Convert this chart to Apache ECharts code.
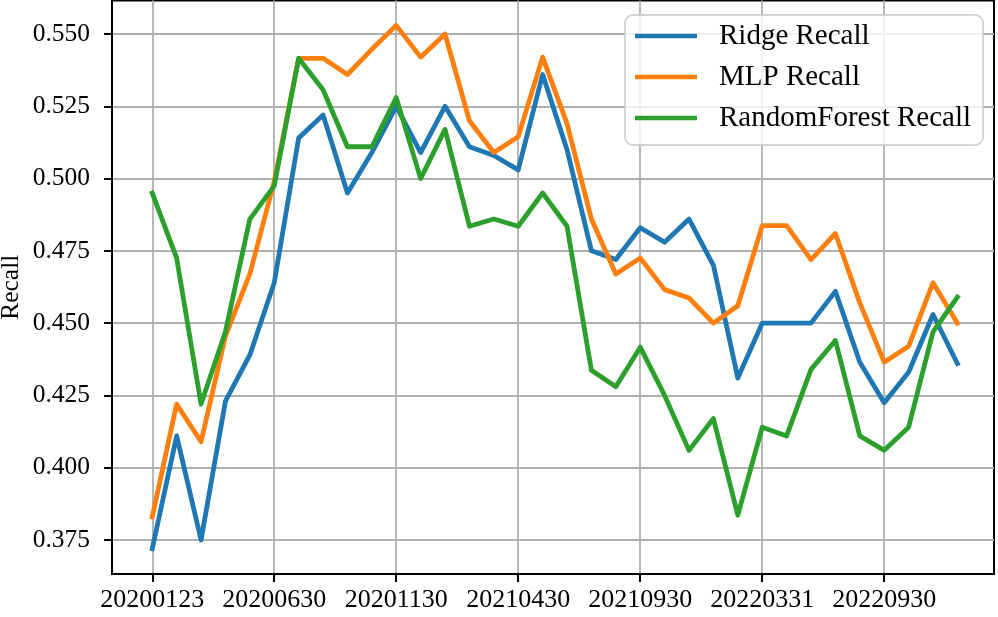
<!DOCTYPE html>
<html>
<head>
<meta charset="utf-8">
<script src="https://cdn.jsdelivr.net/npm/echarts@6/dist/echarts.min.js"></script>
<style>
html,body{margin:0;padding:0;background:#fff;}
#chart{width:998px;height:617px;}
</style>
</head>
<body>
<div id="chart"></div>
<script>
const categories = ['20200123','20200228','20200331','20200430','20200529','20200630','20200731','20200831','20200930','20201030','20201130','20201231','20210129','20210226','20210331','20210430','20210531','20210630','20210730','20210831','20210930','20211029','20211130','20211231','20220228','20220331','20220429','20220531','20220630','20220831','20220930','20221031','20221130','20221230'];
const xTickIndex = [0,5,10,15,20,25,30];
const yTicks = [0.375,0.400,0.425,0.450,0.475,0.500,0.525,0.550];
const ridgeRecall = [0.372,0.411,0.375,0.423,0.439,0.464,0.514,0.522,0.495,0.509,0.525,0.509,0.525,0.511,0.508,0.503,0.536,0.510,0.475,0.472,0.483,0.478,0.486,0.470,0.431,0.450,0.450,0.450,0.461,0.4365,0.4225,0.433,0.453,0.436];
const mlpRecall = [0.383,0.422,0.409,0.4455,0.467,0.499,0.5416,0.5416,0.536,0.5447,0.553,0.542,0.550,0.520,0.509,0.5145,0.542,0.519,0.486,0.467,0.4725,0.4616,0.4587,0.450,0.456,0.4837,0.4837,0.472,0.481,0.457,0.4365,0.442,0.464,0.450];
const rfRecall = [0.495,0.4725,0.422,0.447,0.486,0.4975,0.5416,0.5307,0.511,0.511,0.528,0.500,0.517,0.4835,0.486,0.4835,0.495,0.4835,0.4337,0.428,0.4417,0.425,0.406,0.417,0.3836,0.414,0.411,0.434,0.444,0.411,0.406,0.414,0.447,0.459];
const seriesNames = ['Ridge Recall','MLP Recall','RandomForest Recall'];
const colors = ['#1f77b4','#ff7f0e','#2ca02c'];

const FONT = '"Liberation Serif", "Times New Roman", serif';
const chart = echarts.init(document.getElementById('chart'), null, {renderer:'canvas'});
function toPairs(arr){ return arr.map((v,i)=>[i,v]); }
function mkSeries(name, arr, color){
  return {
    name: name, type:'line', data: toPairs(arr), showSymbol:false, symbol:'none',
    lineStyle:{color:color, width:4.8, join:'round', cap:'square'},
    itemStyle:{color:color}, emphasis:{disabled:true}, animation:false
  };
}
chart.setOption({
  animation:false,
  color: colors,
  grid:{left:112, right:4, top:0.5, bottom:43, containLabel:false, outerBoundsMode:'none',
    show:true, borderColor:'#000', borderWidth:2, backgroundColor:'transparent'},
  xAxis:{
    type:'value', min:-1.65, max:34.5,
    axisLine:{show:true, onZero:false, lineStyle:{color:'#000', width:2}},
    axisTick:{show:true, length:8, lineStyle:{color:'#000', width:2}, customValues:xTickIndex},
    axisLabel:{customValues:xTickIndex, color:'#000', fontFamily:FONT, fontSize:26, margin:13,
      formatter:function(v){ return categories[Math.round(v)] || ''; }},
    splitLine:{show:true, lineStyle:{color:'#b0b0b0', width:1.8}}
  },
  yAxis:{
    type:'value', min:0.36324, max:0.56159,
    name:'Recall', nameLocation:'middle', nameRotate:90, nameGap:88, nameMoveOverlap:false,
    nameTextStyle:{color:'#000', fontFamily:FONT, fontSize:25.5},
    axisLine:{show:true, onZero:false, lineStyle:{color:'#000', width:2}},
    axisTick:{show:true, length:8, lineStyle:{color:'#000', width:2}, customValues:yTicks},
    axisLabel:{customValues:yTicks, color:'#000', fontFamily:FONT, fontSize:25.5, margin:22,
      formatter:function(v){ return v.toFixed(3); }},
    splitLine:{show:true, lineStyle:{color:'#b0b0b0', width:1.8}}
  },
  legend:{
    orient:'vertical', left:625, top:15,
    padding:[6,12,12,10], itemGap:11,
    itemWidth:62, itemHeight:4.5, icon:'rect',
    backgroundColor:'rgba(255,255,255,0.8)', borderColor:'rgba(204,204,204,0.8)', borderWidth:2, borderRadius:8,
    textStyle:{color:'#000', fontFamily:FONT, fontSize:29, lineHeight:30, padding:[0,0,0,17]},
    data: seriesNames,
    selectedMode:false
  },
  series:[
    mkSeries(seriesNames[0], ridgeRecall, colors[0]),
    mkSeries(seriesNames[1], mlpRecall, colors[1]),
    mkSeries(seriesNames[2], rfRecall, colors[2])
  ]
});
</script>
</body>
</html>
